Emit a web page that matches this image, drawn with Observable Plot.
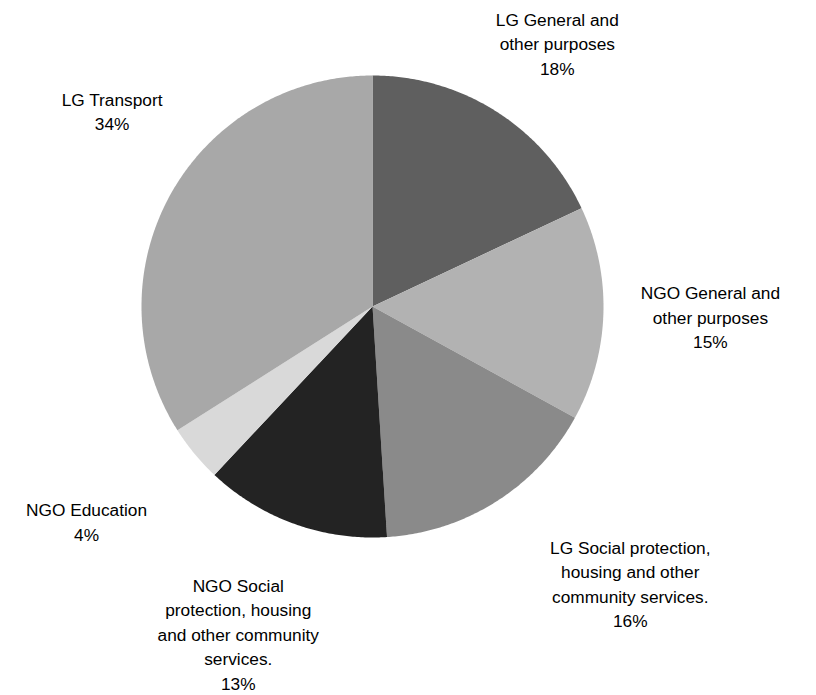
<!DOCTYPE html>
<html><head><meta charset="utf-8">
<script src="https://cdn.jsdelivr.net/npm/d3@7"></script>
<script src="https://cdn.jsdelivr.net/npm/@observablehq/plot@0.6"></script>
<style>body{margin:0;background:#fff}</style>
</head><body><div id="chart"></div>
<script>
// ---- data ----
const categories = [
  "LG General and other purposes",
  "NGO General and other purposes",
  "LG Social protection, housing and other community services.",
  "NGO Social protection, housing and other community services.",
  "NGO Education",
  "LG Transport"
];
const shares = [18, 15, 16, 13, 4, 34];
const labelTexts = [
  "LG General and\nother purposes",
  "NGO General and\nother purposes",
  "LG Social protection,\nhousing and other\ncommunity services.",
  "NGO Social\nprotection, housing\nand other community\nservices.",
  "NGO Education",
  "LG Transport"
];
const colors = ["#5f5f5f", "#b2b2b2", "#8a8a8a", "#232323", "#d9d9d9", "#a8a8a8"];

// ---- layout ----
const W = 816, H = 695, cx = 372, cy = 306, R = 231;
// pixel nudges of label blocks from the slice's outer mid-arc point
const labelNudge = [[61, -69], [107, 2], [134, 81], [-56, 109], [-108, 67], [-58, -85]];

const total = d3.sum(shares);
let acc = 0;
const slices = categories.map((c, i) => {
  const a0 = acc / total * 2 * Math.PI;
  acc += shares[i];
  const a1 = acc / total * 2 * Math.PI;
  return {category: c, value: shares[i], a0, a1, i};
});

const features = slices.map(s => {
  const ring = [[0, 0]];
  const n = Math.max(2, Math.ceil((s.a1 - s.a0) / (Math.PI / 360)));
  for (let k = 0; k <= n; k++) {
    const a = s.a0 + (s.a1 - s.a0) * k / n;
    ring.push([Math.sin(a), Math.cos(a)]);
  }
  ring.push([0, 0]);
  return {type: "Feature", properties: {category: s.category}, geometry: {type: "Polygon", coordinates: [ring]}};
});

const labelData = slices.map(s => {
  const m = (s.a0 + s.a1) / 2;
  const [nx, ny] = labelNudge[s.i];
  return {
    x: Math.sin(m) + nx / R,
    y: Math.cos(m) - ny / R,
    text: labelTexts[s.i] + "\n" + s.value + "%"
  };
});

const chart = Plot.plot({
  width: W, height: H,
  margin: 0,
  x: {domain: [-cx / R, (W - cx) / R], range: [0, W], axis: null},
  y: {domain: [-(H - cy) / R, cy / R], range: [H, 0], axis: null},
  color: {domain: categories, range: colors},
  style: {fontFamily: "'Liberation Sans', Arial, sans-serif", background: "#fff"},
  marks: [
    Plot.geo(features, {fill: d => d.properties.category, stroke: "none"}),
    Plot.text(labelData, {x: "x", y: "y", text: "text", fontSize: 17.3, lineHeight: 1.42, fill: "#000", textAnchor: "middle", lineAnchor: "middle"})
  ]
});
document.getElementById("chart").appendChild(chart);
</script>
</body></html>
